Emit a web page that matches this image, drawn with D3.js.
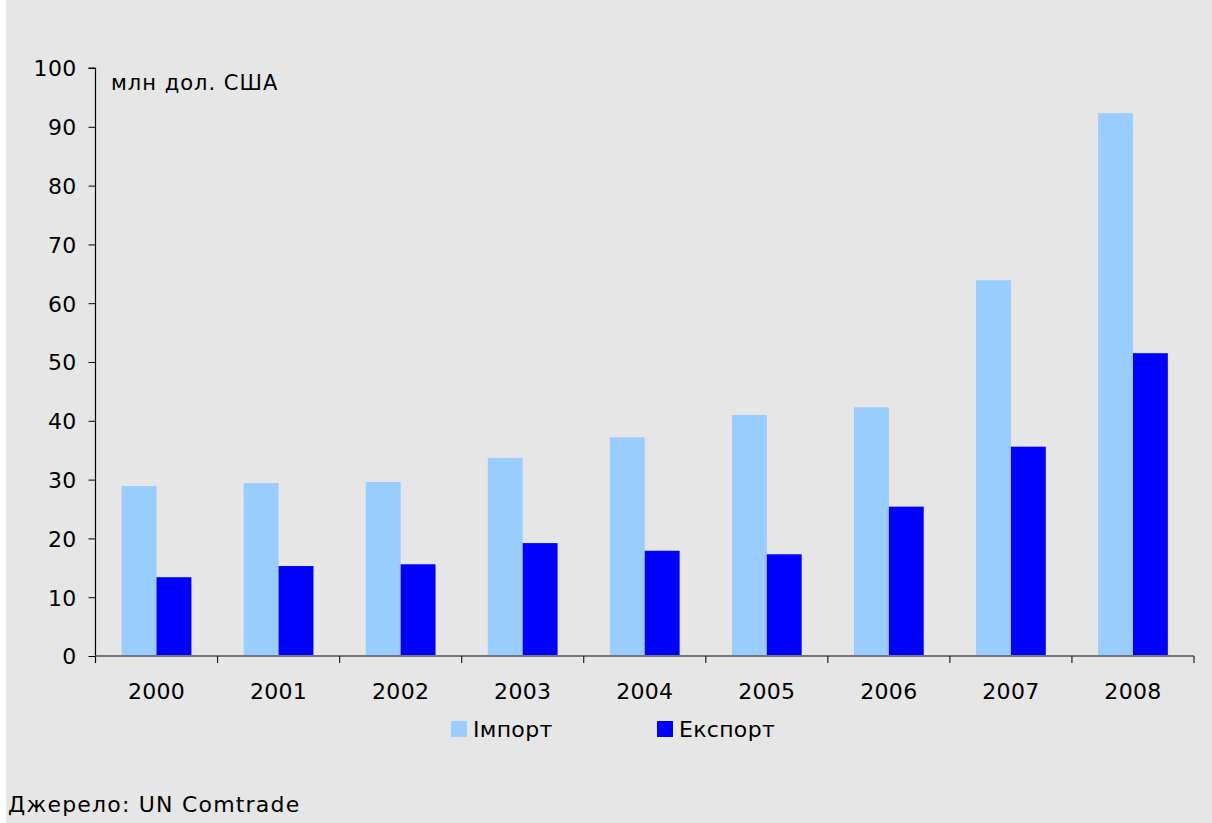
<!DOCTYPE html>
<html><head><meta charset="utf-8">
<script src="https://cdn.jsdelivr.net/npm/d3@7"></script>
<style>
html,body{margin:0;padding:0;background:#E6E6E6;}
svg{display:block;}
text{font-family:"DejaVu Sans",Verdana,sans-serif;fill:#000;}
</style></head>
<body>
<script>
const years = ["2000","2001","2002","2003","2004","2005","2006","2007","2008"];
const importValues = [28.9, 29.4, 29.6, 33.7, 37.2, 41.0, 42.3, 63.9, 92.3];
const exportValues = [13.4, 15.3, 15.6, 19.2, 17.9, 17.3, 25.4, 35.6, 51.5];
const yTicks = [0,10,20,30,40,50,60,70,80,90,100];
const seriesNames = ["Імпорт","Експорт"];
const seriesColors = ["#99CCFF","#0000FF"];
const unitLabel = "млн дол. США";
const sourceLabel = "Джерело: UN Comtrade";

const W = 1212, H = 823;
const svg = d3.select("body").append("svg").attr("width", W).attr("height", H);
svg.append("rect").attr("width", W).attr("height", H).attr("fill", "#E6E6E6");
svg.append("rect").attr("x",0).attr("y",0).attr("width",6).attr("height",H).attr("fill","#FFFFFF");

const x0 = 95.5, x1 = 1194, y0 = 656, y1 = 68;
const x = d3.scaleBand().domain(years).range([x0, x1]).paddingInner(0).paddingOuter(0);
const y = d3.scaleLinear().domain([0,100]).range([y0, y1]);
const gapFrac = 1.5 / 3.5; // Excel gap width 150%
const inner = x.bandwidth() * (1 - gapFrac);
const off = x.bandwidth() * gapFrac / 2;
const bw = inner / 2;

const data = years.map((yr,i)=>({yr, vals:[importValues[i], exportValues[i]]}));
const g = svg.append("g");
data.forEach(d=>{
  d.vals.forEach((v,k)=>{
    g.append("rect")
      .attr("x", x(d.yr) + off + k*bw)
      .attr("y", y(v))
      .attr("width", bw)
      .attr("height", y0 - y(v))
      .attr("fill", seriesColors[k]);
  });
});

// y axis
const yAxis = d3.axisLeft(y).tickValues(yTicks).tickSize(7).tickPadding(12).tickFormat(d3.format("d"));
const ya = svg.append("g").attr("transform", `translate(${x0},0)`).call(yAxis);
ya.select(".domain").attr("stroke","#000").attr("stroke-width",1.2).attr("d", `M-7,${y1}H0V${y0+7}`);
ya.selectAll(".tick line").attr("stroke","#000");
ya.selectAll(".tick text").attr("font-size","22px").attr("font-family","DejaVu Sans").attr("fill","#000").attr("dy","0.36em").attr("letter-spacing","0.3px");

// x axis
const xa = svg.append("g").attr("transform", `translate(0,${y0})`);
xa.append("line").attr("x1", x0).attr("x2", x1).attr("y1",0).attr("y2",0).attr("stroke","#777").attr("stroke-width",2);
const bounds = years.map(yr=>x(yr)).concat([x1]);
bounds.slice(1).forEach(b=>{
  xa.append("line").attr("x1",b).attr("x2",b).attr("y1",0).attr("y2",7).attr("stroke","#222").attr("stroke-width",1.2);
});
years.forEach(yr=>{
  xa.append("text").attr("x", x(yr)+x.bandwidth()/2).attr("y", 43)
    .attr("text-anchor","middle").attr("font-size","22px").attr("letter-spacing","0.3px").text(yr);
});

// unit label
svg.append("text").attr("x",111).attr("y",90).attr("font-size","21px").attr("letter-spacing","1px").text(unitLabel);

// legend
const legX = [451, 657];
seriesNames.forEach((n,k)=>{
  svg.append("rect").attr("x",legX[k]).attr("y",721).attr("width",16).attr("height",16).attr("fill",seriesColors[k]);
  svg.append("text").attr("x",legX[k]+22).attr("y",737).attr("font-size","22px").attr("letter-spacing","0.3px").text(n);
});

// source
svg.append("text").attr("x",8).attr("y",812).attr("font-size","22px").attr("letter-spacing","1.2px").text(sourceLabel);
</script>
</body></html>
